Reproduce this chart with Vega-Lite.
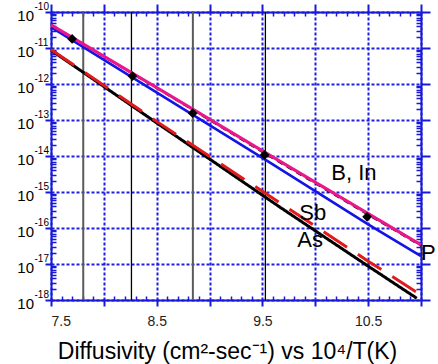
{
  "$schema": "https://vega.github.io/schema/vega-lite/v6.json",
  "width": 370,
  "height": 288,
  "autosize": {"type": "none"},
  "padding": {"left": 51, "top": 12, "right": 17, "bottom": 64},
  "background": "white",
  "config": {
    "view": {"stroke": null},
    "font": "Liberation Sans",
    "axis": {
      "tickColor": "#1818d8",
      "domainColor": "#1818d8",
      "domainWidth": 2,
      "tickWidth": 1.5,
      "grid": false,
      "labelFont": "Liberation Sans",
      "titleFont": "Liberation Sans"
    }
  },
  "datasets": {
    "lines": [
      {"s": "B", "x": 7.5, "D": 4.37e-11},
      {"s": "B", "x": 8.5, "D": 7.94e-13},
      {"s": "B", "x": 9.5, "D": 1.38e-14},
      {"s": "B", "x": 10.5, "D": 2.51e-16},
      {"s": "B", "x": 11.0, "D": 3.39e-17},
      {"s": "In", "x": 7.5, "D": 3.80e-11},
      {"s": "In", "x": 9.5, "D": 8.91e-15},
      {"s": "In", "x": 10.5, "D": 1.26e-16},
      {"s": "In", "x": 11.0, "D": 1.66e-17},
      {"s": "P", "x": 7.5, "D": 4.27e-11},
      {"s": "P", "x": 8.5, "D": 7.59e-13},
      {"s": "P", "x": 9.5, "D": 1.26e-14},
      {"s": "P", "x": 10.5, "D": 2.29e-16},
      {"s": "P", "x": 11.0, "D": 3.16e-17},
      {"s": "As", "x": 7.5, "D": 8.71e-12},
      {"s": "As", "x": 8.43, "D": 1.15e-13},
      {"s": "As", "x": 9.66, "D": 3.89e-16},
      {"s": "As", "x": 10.5, "D": 8.71e-18},
      {"s": "As", "x": 10.96, "D": 1.12e-18},
      {"s": "Sb", "x": 7.5, "D": 9.12e-12},
      {"s": "Sb", "x": 8.52, "D": 8.32e-14},
      {"s": "Sb", "x": 9.67, "D": 4.90e-16},
      {"s": "Sb", "x": 10.5, "D": 1.20e-17},
      {"s": "Sb", "x": 11.0, "D": 1.38e-18}
    ],
    "markers": [
      {"x": 7.7, "D": 1.78e-11},
      {"x": 8.27, "D": 1.66e-12},
      {"x": 8.84, "D": 1.55e-13},
      {"x": 9.52, "D": 1.07e-14},
      {"x": 10.49, "D": 2.04e-16}
    ],
    "rules": [
      {"x": 7.805, "set": "outer"},
      {"x": 8.261, "set": "inner"},
      {"x": 8.842, "set": "outer"},
      {"x": 9.528, "set": "inner"}
    ],
    "labels": [
      {"label": "B, In", "x": 10.151, "D": 2.09e-15},
      {"label": "Sb", "x": 9.849, "D": 1.67e-16},
      {"label": "As", "x": 9.83, "D": 2.97e-17},
      {"label": "P", "x": 11.0, "D": 1.29e-17}
    ]
  },
  "resolve": {"axis": {"x": "independent", "y": "independent"}},
  "layer": [
    {
      "data": {"name": "rules"},
      "transform": [{"filter": "datum.set == 'outer'"}],
      "mark": {"type": "rule", "color": "#5a5a5a", "strokeWidth": 2},
      "encoding": {
        "x": {
          "field": "x", "type": "quantitative",
          "scale": {"domain": [7.5, 11], "nice": false, "zero": false},
          "axis": {
            "orient": "bottom",
            "values": [7.5, 8, 8.5, 9, 9.5, 10, 10.5, 11],
            "tickSize": 6, "tickWidth": 2,
            "grid": true, "gridColor": "#1f1fe0", "gridWidth": 2, "gridDash": [3, 2], "gridOpacity": 1,
            "labelExpr": "indexof([7.5, 8.5, 9.5, 10.5], datum.value) >= 0 ? format(datum.value, '.1f') : ''",
            "labelFontSize": 14, "labelColor": "#222222",
            "labelBaseline": "alphabetic", "labelPadding": 19,
            "labelAlign": {"condition": {"test": "datum.value <= 7.5", "value": "left"}, "value": "center"},
            "labelFlush": false, "labelOverlap": false,
            "title": "Diffusivity (cm²-sec⁻¹) vs 10⁴/T(K)",
            "titleFontSize": 23, "titleFontWeight": "normal", "titleColor": "#000000",
            "titleX": 176, "titleY": 58, "titleBaseline": "alphabetic", "titleAlign": "center"
          }
        }
      }
    },
    {
      "data": {"name": "rules"},
      "transform": [{"filter": "datum.set == 'inner'"}],
      "mark": {"type": "rule", "color": "#000000", "strokeWidth": 1.3},
      "encoding": {
        "x": {
          "field": "x", "type": "quantitative",
          "scale": {"domain": [7.5, 11], "nice": false, "zero": false},
          "axis": {
            "orient": "top",
            "values": [7.5, 8, 8.5, 9, 9.5, 10, 10.5, 11],
            "tickSize": 8, "tickWidth": 2,
            "labels": false, "grid": false, "title": null
          }
        }
      }
    },
    {
      "data": {"name": "lines"},
      "transform": [{"filter": "datum.s == 'P'"}],
      "mark": {"type": "line", "color": "#000000", "strokeWidth": 1.5, "strokeDash": [6, 5]},
      "encoding": {
        "x": {
          "field": "x", "type": "quantitative",
          "scale": {"domain": [7.5, 11], "nice": false, "zero": false},
          "axis": {
            "orient": "top",
            "values": [7.6,7.7,7.8,7.9,8.1,8.2,8.3,8.4,8.6,8.7,8.8,8.9,9.1,9.2,9.3,9.4,9.6,9.7,9.8,9.9,10.1,10.2,10.3,10.4,10.6,10.7,10.8,10.9],
            "tickSize": -4, "tickWidth": 1.5,
            "labels": false, "domain": false, "grid": false, "title": null
          }
        },
        "y": {
          "field": "D", "type": "quantitative",
          "scale": {"type": "log", "domain": [1e-18, 1e-10], "nice": false},
          "axis": {
            "orient": "right",
            "values": [1e-18, 1e-17, 1e-16, 1e-15, 1e-14, 1e-13, 1e-12, 1e-11, 1e-10],
            "tickSize": 9, "tickWidth": 2,
            "labels": false, "grid": false, "title": null
          }
        }
      }
    },
    {
      "data": {"name": "lines"},
      "transform": [{"filter": "datum.s == 'As' || datum.s == 'Sb'"}],
      "mark": {"type": "line", "strokeWidth": 3},
      "encoding": {
        "x": {
          "field": "x", "type": "quantitative",
          "scale": {"domain": [7.5, 11], "nice": false, "zero": false},
          "axis": {
            "orient": "bottom",
            "values": [7.6,7.7,7.8,7.9,8.1,8.2,8.3,8.4,8.6,8.7,8.8,8.9,9.1,9.2,9.3,9.4,9.6,9.7,9.8,9.9,10.1,10.2,10.3,10.4,10.6,10.7,10.8,10.9],
            "tickSize": -4, "tickWidth": 1.5,
            "labels": false, "domain": false, "grid": false, "title": null
          }
        },
        "y": {
          "field": "D", "type": "quantitative",
          "scale": {"type": "log", "domain": [1e-18, 1e-10], "nice": false},
          "axis": {
            "orient": "left",
            "values": [1e-18, 1e-17, 1e-16, 1e-15, 1e-14, 1e-13, 1e-12, 1e-11, 1e-10],
            "tickSize": 6, "tickWidth": 2,
            "grid": true, "gridColor": "#1f1fe0", "gridWidth": 2, "gridDash": [3, 2], "gridOpacity": 1,
            "labelExpr": "'10'",
            "labelFontSize": 15, "labelColor": "#000000",
            "labelPadding": 11.5, "labelBaseline": "middle", "labelOffset": 3,
            "labelFlush": false, "labelOverlap": false,
            "title": null
          }
        },
        "color": {
          "field": "s", "type": "nominal",
          "scale": {"domain": ["As", "Sb"], "range": ["#000000", "#e01b1b"]},
          "legend": null
        },
        "strokeDash": {
          "field": "s", "type": "nominal",
          "scale": {"domain": ["As", "Sb"], "range": [[1, 0], [28, 13]]},
          "legend": null
        }
      }
    },
    {
      "data": {"name": "lines"},
      "transform": [{"filter": "datum.s == 'In'"}],
      "mark": {"type": "line", "color": "#1414e6", "strokeWidth": 2.6},
      "encoding": {
        "x": {
          "field": "x", "type": "quantitative",
          "scale": {"domain": [7.5, 11], "nice": false, "zero": false},
          "axis": null
        },
        "y": {
          "field": "D", "type": "quantitative",
          "scale": {"type": "log", "domain": [1e-18, 1e-10], "nice": false},
          "axis": {
            "orient": "right",
            "values": [2e-18,3e-18,4e-18,5e-18,6e-18,7e-18,8e-18,9e-18,2e-17,3e-17,4e-17,5e-17,6e-17,7e-17,8e-17,9e-17,2e-16,3e-16,4e-16,5e-16,6e-16,7e-16,8e-16,9e-16,2e-15,3e-15,4e-15,5e-15,6e-15,7e-15,8e-15,9e-15,2e-14,3e-14,4e-14,5e-14,6e-14,7e-14,8e-14,9e-14,2e-13,3e-13,4e-13,5e-13,6e-13,7e-13,8e-13,9e-13,2e-12,3e-12,4e-12,5e-12,6e-12,7e-12,8e-12,9e-12,2e-11,3e-11,4e-11,5e-11,6e-11,7e-11,8e-11,9e-11],
            "tickSize": -5, "tickWidth": 1.5,
            "labels": false, "domain": false, "grid": false, "title": null
          }
        }
      }
    },
    {
      "data": {"name": "lines"},
      "transform": [{"filter": "datum.s == 'B'"}],
      "mark": {"type": "line", "color": "#e8178a", "strokeWidth": 3.2},
      "encoding": {
        "x": {
          "field": "x", "type": "quantitative",
          "scale": {"domain": [7.5, 11], "nice": false, "zero": false},
          "axis": null
        },
        "y": {
          "field": "D", "type": "quantitative",
          "scale": {"type": "log", "domain": [1e-18, 1e-10], "nice": false},
          "axis": {
            "orient": "left",
            "values": [2e-18,3e-18,4e-18,5e-18,6e-18,7e-18,8e-18,9e-18,2e-17,3e-17,4e-17,5e-17,6e-17,7e-17,8e-17,9e-17,2e-16,3e-16,4e-16,5e-16,6e-16,7e-16,8e-16,9e-16,2e-15,3e-15,4e-15,5e-15,6e-15,7e-15,8e-15,9e-15,2e-14,3e-14,4e-14,5e-14,6e-14,7e-14,8e-14,9e-14,2e-13,3e-13,4e-13,5e-13,6e-13,7e-13,8e-13,9e-13,2e-12,3e-12,4e-12,5e-12,6e-12,7e-12,8e-12,9e-12,2e-11,3e-11,4e-11,5e-11,6e-11,7e-11,8e-11,9e-11],
            "tickSize": -5, "tickWidth": 1.5,
            "labels": false, "domain": false, "grid": false, "title": null
          }
        }
      }
    },
    {
      "data": {"name": "markers"},
      "mark": {"type": "point", "shape": "diamond", "filled": true, "color": "#000000", "size": 95, "opacity": 1},
      "encoding": {
        "x": {
          "field": "x", "type": "quantitative",
          "scale": {"domain": [7.5, 11], "nice": false, "zero": false},
          "axis": null
        },
        "y": {
          "field": "D", "type": "quantitative",
          "scale": {"type": "log", "domain": [1e-18, 1e-10], "nice": false},
          "axis": {
            "orient": "left",
            "values": [1e-18, 1e-17, 1e-16, 1e-15, 1e-14, 1e-13, 1e-12, 1e-11, 1e-10],
            "ticks": false, "tickSize": 0, "domain": false, "grid": false,
            "labelExpr": "'-' + format(-round(log(datum.value)/LN10), 'd')",
            "labelFontSize": 10, "labelColor": "#000000",
            "labelAlign": "left", "labelPadding": 17, "labelBaseline": "middle", "labelOffset": -6,
            "labelFlush": false, "labelOverlap": false,
            "title": null
          }
        }
      }
    },
    {
      "data": {"name": "labels"},
      "mark": {"type": "text", "align": "left", "baseline": "alphabetic", "fontSize": 22, "font": "Liberation Sans", "color": "#000000"},
      "encoding": {
        "x": {
          "field": "x", "type": "quantitative",
          "scale": {"domain": [7.5, 11], "nice": false, "zero": false},
          "axis": null
        },
        "y": {
          "field": "D", "type": "quantitative",
          "scale": {"type": "log", "domain": [1e-18, 1e-10], "nice": false},
          "axis": null
        },
        "text": {"field": "label", "type": "nominal"}
      }
    }
  ]
}
